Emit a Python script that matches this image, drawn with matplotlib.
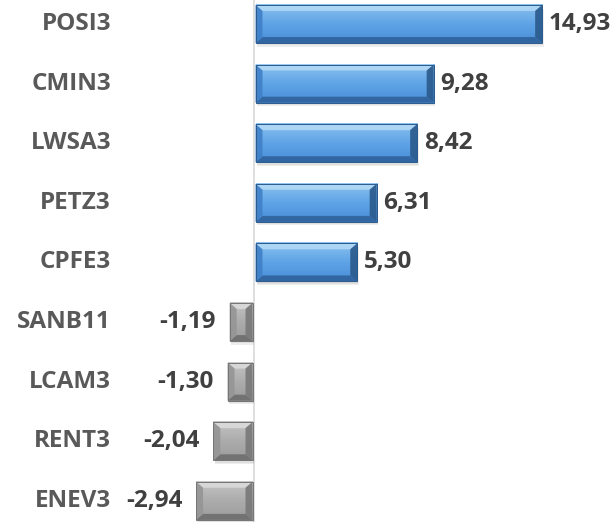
import numpy as np
import matplotlib
matplotlib.use("Agg")
import matplotlib.pyplot as plt
from matplotlib.patches import Polygon, Rectangle
from matplotlib.colors import LinearSegmentedColormap

# data
tickers = ["POSI3", "CMIN3", "LWSA3", "PETZ3", "CPFE3", "SANB11", "LCAM3", "RENT3", "ENEV3"]
values = [14.93, 9.28, 8.42, 6.31, 5.30, -1.19, -1.30, -2.04, -2.94]

plt.rcParams['font.family'] = ['Open Sans', 'DejaVu Sans']

W, H, DPI = 616, 522, 100
zero_px = 254          # pixel position of the zero line
px_per_unit = 19.2     # horizontal scale
row_px = 59.6          # vertical spacing of rows
first_px = 24          # center of first row

fig = plt.figure(figsize=(W / DPI, H / DPI), dpi=DPI)
ax = fig.add_axes([0, 0, 1, 1])
ax.set_xlim(-zero_px / px_per_unit, (W - zero_px) / px_per_unit)
ax.set_ylim((H - first_px) / row_px, -first_px / row_px)
ax.axis("off")

# light vertical axis line
ax.axvline(0, color="#d9d9d9", lw=1.2, zorder=1)

bar_h = 0.64
bx = 7 / px_per_unit
by = 6 / row_px
gap = 1.5 / px_per_unit

styles = {
    "pos": dict(face=["#8cc2ef", "#5fa4e6", "#4a8fd8"], top="#b2d9f7", bottom="#2f629c",
                left="#3f80c8", right="#2b5a8c", edge="#2a5a8c"),
    "neg": dict(face=["#c4c4c4", "#acacac", "#9c9c9c"], top="#dadada", bottom="#6e6e6e",
                left="#959595", right="#787878", edge="#747474"),
}


def bevel_bar(i, v):
    st = styles["pos" if v >= 0 else "neg"]
    if v >= 0:
        x0, x1 = gap, v + gap
    else:
        x0, x1 = v - gap, -gap
    y0, y1 = i - bar_h / 2, i + bar_h / 2
    b = min(bx, (x1 - x0) / 2)

    # soft shadow
    for k, a in enumerate([0.05, 0.06, 0.07]):
        off = (k + 1) * 1.2
        ax.add_patch(Rectangle((x0 + off * 0.5 / px_per_unit, y0 + off / row_px), x1 - x0,
                               bar_h, color="#000000", alpha=a, lw=0, zorder=2))

    # face gradient
    cmap = LinearSegmentedColormap.from_list("f", st["face"])
    grad = np.linspace(0, 1, 64).reshape(-1, 1)
    ax.imshow(grad, cmap=cmap, extent=(x0, x1, y1, y0), aspect="auto",
              interpolation="bilinear", zorder=3)

    # bevel edges
    top = [(x0, y0), (x1, y0), (x1 - b, y0 + by), (x0 + b, y0 + by)]
    bot = [(x0, y1), (x1, y1), (x1 - b, y1 - by), (x0 + b, y1 - by)]
    lft = [(x0, y0), (x0 + b, y0 + by), (x0 + b, y1 - by), (x0, y1)]
    rgt = [(x1, y0), (x1 - b, y0 + by), (x1 - b, y1 - by), (x1, y1)]
    for pts, c in [(top, st["top"]), (bot, st["bottom"]), (lft, st["left"]), (rgt, st["right"])]:
        ax.add_patch(Polygon(pts, closed=True, fc=c, ec="none", alpha=0.9, zorder=4))
    ax.add_patch(Rectangle((x0, y0), x1 - x0, bar_h, fc="none", ec=st["edge"], lw=0.7, zorder=5))


label_x = (111 - zero_px) / px_per_unit
fs = 17.5

for i, (t, v) in enumerate(zip(tickers, values)):
    bevel_bar(i, v)
    ax.text(label_x, i, t, ha="right", va="center", fontsize=fs, fontweight="bold",
            color="#595959")
    txt = f"{v:.2f}".replace(".", ",")
    if v >= 0:
        ax.annotate(txt, (v, i), xytext=(8, 0), textcoords="offset pixels",
                    ha="left", va="center", fontsize=fs, fontweight="bold", color="#404040")
    else:
        ax.annotate(txt, (v, i), xytext=(-15, 0), textcoords="offset pixels",
                    ha="right", va="center", fontsize=fs, fontweight="bold", color="#404040")

fig.savefig("out.png", dpi=DPI)
